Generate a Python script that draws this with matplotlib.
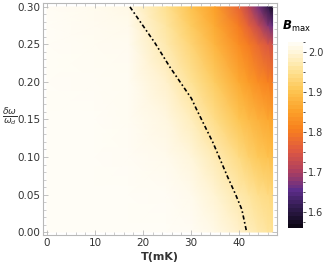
import numpy as np
import matplotlib
matplotlib.use('Agg')
import matplotlib.pyplot as plt
from matplotlib.colors import LinearSegmentedColormap
from matplotlib.ticker import MultipleLocator

# grid: temperature (mK), detuning ratio, B_max
t_vals = [0, 10, 17, 25, 30, 35, 40, 42, 44, 46, 47]
dw_vals = [0.00, 0.05, 0.10, 0.15, 0.20, 0.25, 0.275, 0.30]
b_max = [
    [2.025, 2.025, 2.025, 2.025, 2.022, 2.010, 1.990, 1.980, 1.970, 1.960, 1.955],
    [2.025, 2.025, 2.025, 2.022, 2.015, 1.995, 1.970, 1.960, 1.948, 1.940, 1.935],
    [2.025, 2.025, 2.022, 2.015, 2.000, 1.975, 1.940, 1.925, 1.910, 1.900, 1.895],
    [2.025, 2.025, 2.020, 2.005, 1.980, 1.945, 1.905, 1.890, 1.875, 1.862, 1.855],
    [2.025, 2.022, 2.020, 1.990, 1.955, 1.915, 1.865, 1.845, 1.825, 1.810, 1.800],
    [2.025, 2.020, 2.018, 1.970, 1.930, 1.880, 1.825, 1.800, 1.775, 1.750, 1.740],
    [2.024, 2.018, 2.015, 1.960, 1.915, 1.865, 1.800, 1.765, 1.725, 1.680, 1.660],
    [2.022, 2.016, 2.010, 1.950, 1.900, 1.850, 1.770, 1.720, 1.670, 1.610, 1.575],
]

# dash-dot boundary curve
line_t = [17.3, 22.5, 25.6, 30.1, 31.2, 34.6, 37.6, 39.3, 40.6, 41.6]
line_dw = [0.30, 0.252, 0.220, 0.178, 0.163, 0.119, 0.074, 0.050, 0.030, 0.0]

cbar_ticks = [1.6, 1.7, 1.8, 1.9, 2.0]
vmin, vmax = 1.56, 2.025

sunset = LinearSegmentedColormap.from_list('sunset', [
    (0.00, '#0a0510'),
    (0.10, '#2e1a4a'),
    (0.20, '#5c2d8a'),
    (0.31, '#b0405e'),
    (0.42, '#e05a40'),
    (0.53, '#f8801e'),
    (0.63, '#fca22a'),
    (0.74, '#fdc552'),
    (0.85, '#fee396'),
    (0.95, '#fff6dc'),
    (1.00, '#fffdf6'),
])

frame_col = '#b8b8b8'
text_col = '#333333'

fig = plt.figure(figsize=(3.25, 2.68), dpi=100)
ax = fig.add_axes([0.132, 0.123, 0.720, 0.866])

T, D = np.meshgrid(t_vals, dw_vals)
mesh = ax.pcolormesh(T, D, np.array(b_max), cmap=sunset, vmin=vmin, vmax=vmax,
                     shading='gouraud', rasterized=True)
ax.plot(line_t, line_dw, color='black', lw=1.2, linestyle=(0, (2.5, 1.5, 1, 1.5)))

ax.set_xlim(-0.83, 47.9)
ax.set_ylim(-0.004, 0.3053)
ax.xaxis.set_major_locator(MultipleLocator(10))
ax.xaxis.set_minor_locator(MultipleLocator(2))
ax.yaxis.set_major_locator(MultipleLocator(0.05))
ax.yaxis.set_minor_locator(MultipleLocator(0.01))
ax.yaxis.set_major_formatter(matplotlib.ticker.FormatStrFormatter('%.2f'))
ax.tick_params(which='both', direction='in', top=True, right=True,
               color=frame_col, labelcolor=text_col, labelsize=7.5, pad=2)
ax.tick_params(which='major', length=3.5, width=0.6)
ax.tick_params(which='minor', length=2, width=0.5)
for s in ax.spines.values():
    s.set_color(frame_col)
    s.set_linewidth(0.8)

ax.set_xlabel('T(mK)', fontsize=8, fontweight='bold', color=text_col, labelpad=3)
fig.text(0.03, 0.565, r'$\frac{\delta\omega}{\omega_d}$', fontsize=9.5,
         color=text_col, ha='center', va='center')

cax = fig.add_axes([0.886, 0.149, 0.046, 0.694])
cb = fig.colorbar(mesh, cax=cax, boundaries=np.linspace(vmin, vmax, 48), ticks=cbar_ticks)
cb.outline.set_visible(False)
cax.yaxis.set_minor_locator(MultipleLocator(0.025))
cax.tick_params(which='both', direction='out', color=text_col, labelcolor=text_col,
                labelsize=7, width=0.6, pad=1)
cax.tick_params(which='major', length=2.5)
cax.tick_params(which='minor', length=1.5)
cax.set_yticklabels(['%.1f' % v for v in cbar_ticks])
fig.text(0.912, 0.875, r'$\mathbfit{B}_{\mathrm{max}}$', fontsize=8.5, color='black',
         ha='center', va='bottom')

fig.savefig('out.png', dpi=100)
